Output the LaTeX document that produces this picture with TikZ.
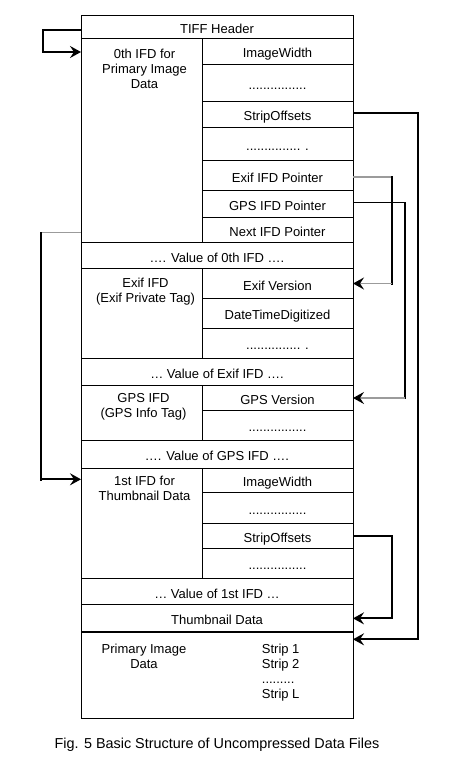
\documentclass[tikz,border=0pt]{standalone}
\usepackage{fontspec}
\setmainfont{Liberation Sans}
\usetikzlibrary{positioning,arrows.meta,calc}
\definecolor{PointerGrey}{RGB}{155,155,155}
\newcommand{\figfont}{\fontsize{13}{15}\selectfont}
\newcommand{\capfont}{\fontsize{14.4}{17}\selectfont}
\tikzset{
  cell/.style={draw,line width=0.8pt,anchor=north west,inner sep=0pt,outer sep=0pt,
    minimum width=272pt,text height=13pt,text depth=0pt,font=\figfont},
  leftcell/.style={cell,minimum width=121pt},
  rightcell/.style={cell,minimum width=151pt},
  celltext/.style={anchor=north,align=center,inner sep=0pt,font=\figfont},
  tip/.style={-{Stealth[length=11pt,width=12pt,inset=4pt,color=black]}},
  flow/.style={tip,line width=1.8pt,draw=black},
  runline/.style={line width=2.4pt,draw=black,line cap=rect},
  greyline/.style={line width=1.3pt,draw=PointerGrey},
  greyflow/.style={tip,line width=1.3pt,draw=PointerGrey},
  thinline/.style={line width=1pt,draw=black}
}
\begin{document}
\begin{tikzpicture}[x=1pt,y=-1pt]
  \useasboundingbox (0,0) rectangle (468,760);
  \node[cell,minimum height=23.7pt] (hdr) at (81,15) {TIFF Header};
  \node[leftcell,minimum height=203.6pt,below=0pt of hdr.south west,anchor=north west] (ifdzero) {};
  \node[rightcell,minimum height=25.6pt,below=0pt of hdr.south east,anchor=north east] (zwidth) {ImageWidth};
  \node[rightcell,minimum height=37pt,below=0pt of zwidth] (zdotsa) {................};
  \node[rightcell,minimum height=26pt,below=0pt of zdotsa] (zstrip) {StripOffsets};
  \node[rightcell,minimum height=33.4pt,below=0pt of zstrip] (zdotsb) {............... .};
  \node[rightcell,minimum height=30pt,below=0pt of zdotsb] (exifptr) {Exif IFD Pointer};
  \node[rightcell,minimum height=26.6pt,below=0pt of exifptr] (gpsptr) {GPS IFD Pointer};
  \node[rightcell,minimum height=25pt,below=0pt of gpsptr] (nextptr) {Next IFD Pointer};
  \node[celltext] (ifdzerotext) at ($(ifdzero.north)+(3,10)$) {0th IFD for\\Primary Image\\Data};

  \node[cell,minimum height=26.4pt,below=0pt of ifdzero.south west,anchor=north west] (valzero) {…. Value of 0th IFD ….};
  \node[leftcell,minimum height=89.6pt,below=0pt of valzero.south west,anchor=north west] (exififd) {};
  \node[rightcell,minimum height=29.6pt,below=0pt of valzero.south east,anchor=north east] (exifver) {Exif Version};
  \node[rightcell,minimum height=30pt,below=0pt of exifver] (exifdate) {DateTimeDigitized};
  \node[rightcell,minimum height=30pt,below=0pt of exifdate] (exifdots) {............... .};
  \node[celltext] (exififdtext) at ($(exififd.north)+(4,9)$) {Exif IFD\\(Exif Private Tag)};

  \node[cell,minimum height=27.4pt,below=0pt of exififd.south west,anchor=north west] (valexif) {… Value of Exif IFD ….};
  \node[leftcell,minimum height=54.6pt,below=0pt of valexif.south west,anchor=north west] (gpsifd) {};
  \node[rightcell,minimum height=24.6pt,below=0pt of valexif.south east,anchor=north east] (gpsver) {GPS Version};
  \node[rightcell,minimum height=30pt,below=0pt of gpsver] (gpsdots) {................};
  \node[celltext] (gpsifdtext) at ($(gpsifd.north)+(2,8)$) {GPS IFD\\(GPS Info Tag)};

  \node[cell,minimum height=28pt,below=0pt of gpsifd.south west,anchor=north west] (valgps) {…. Value of GPS IFD ….};
  \node[leftcell,minimum height=110pt,below=0pt of valgps.south west,anchor=north west] (ifdone) {};
  \node[rightcell,minimum height=24pt,below=0pt of valgps.south east,anchor=north east] (owidth) {ImageWidth};
  \node[rightcell,minimum height=31pt,below=0pt of owidth] (odotsa) {................};
  \node[rightcell,minimum height=25pt,below=0pt of odotsa] (ostrip) {StripOffsets};
  \node[rightcell,minimum height=30pt,below=0pt of ostrip] (odotsb) {................};
  \node[celltext] (ifdonetext) at ($(ifdone.north)+(3,8)$) {1st IFD for\\Thumbnail Data};

  \node[cell,minimum height=26.4pt,below=0pt of ifdone.south west,anchor=north west] (valone) {… Value of 1st IFD …};
  \node[cell,minimum height=27.3pt,below=0pt of valone.south west,anchor=north west] (thumb) {Thumbnail Data};
  \node[cell,minimum height=86pt,below=0pt of thumb.south west,anchor=north west] (prim) {};
  \draw[line width=2pt] (prim.north west) -- (prim.north east);
  \node[celltext] (primtext) at ($(prim.north west)+(63,12)$) {Primary Image\\Data};
  \node[celltext,anchor=north west,align=left] (striptext) at ($(prim.north west)+(180.7,12)$) {Strip 1\\Strip 2\\.........\\Strip L};

  \node[font=\capfont] (caption) at (217,745) {Fig. 5 Basic Structure of Uncompressed Data Files};

  \coordinate (hdrout) at ($(hdr.west)+(0,2.8)$);
  \coordinate (ifdzeroin) at ($(ifdzero.north west)+(0,13.3)$);
  \draw[flow] (hdrout) -- ++(-38.3,0) |- (ifdzeroin);

  \coordinate (nextout) at ($(ifdzero.south west)+(0,-9.6)$);
  \coordinate (nextrun) at ($(nextout)+(-40,0)$);
  \coordinate (ifdonein) at ($(ifdone.north west)+(0,11)$);
  \draw[greyline] (nextout) -- (nextrun);
  \draw[runline] (nextrun) -- (nextrun |- ifdonein);
  \draw[flow] (nextrun |- ifdonein) -- (ifdonein);

  \draw[greyline] ($(exifptr.east)+(0,1.3)$) -- ++(38.7,0) coordinate (exifrun);
  \draw[runline] (exifrun) -- (exifrun |- exifver.east);
  \draw[greyflow] (exifrun |- exifver.east) -- (exifver.east);

  \draw[thinline] ($(gpsptr.east)+(0,-1.3)$) -- ++(51.7,0) coordinate (gpsrun);
  \draw[runline] (gpsrun) -- (gpsrun |- gpsver.east);
  \draw[greyflow] (gpsrun |- gpsver.east) -- (gpsver.east);

  \draw[flow] ($(zstrip.east)+(0,-1.6)$) -- ++(65,0) |- ($(prim.north east)+(0,7.3)$);
  \draw[flow] (ostrip.east) -- ++(38.7,0) |- (thumb.east);
\end{tikzpicture}
\end{document}
